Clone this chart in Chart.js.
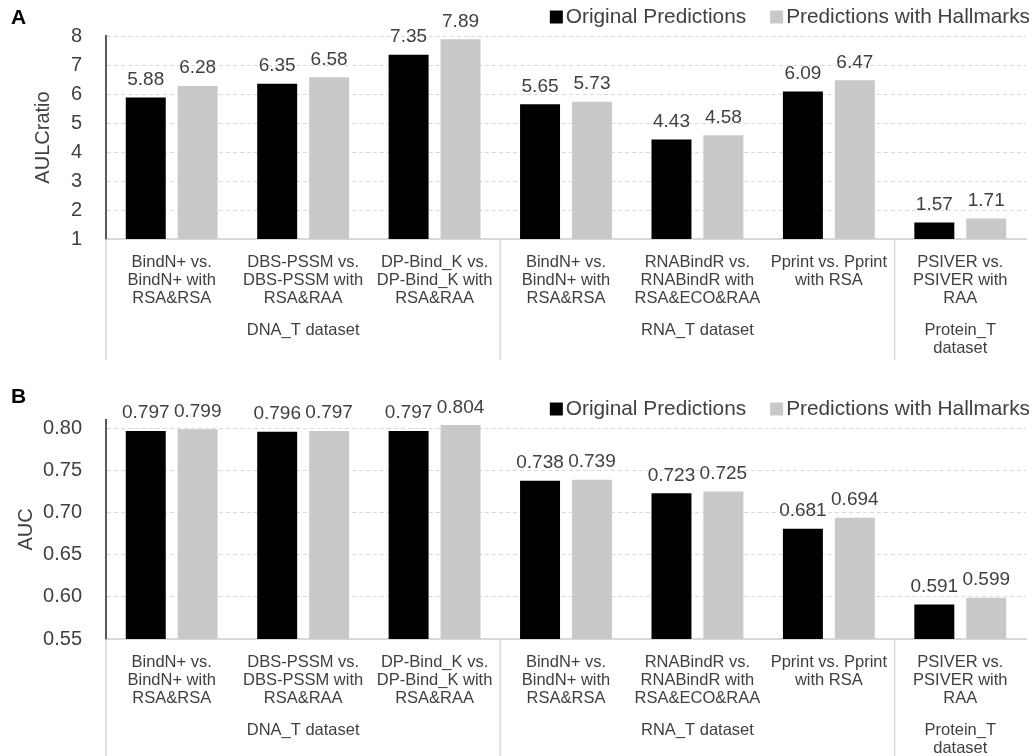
<!DOCTYPE html>
<html>
<head>
<meta charset="utf-8">
<script src="https://cdn.jsdelivr.net/npm/chart.js@4.4.1/dist/chart.umd.min.js"></script>
<style>
  body { margin: 0; background: #fff; }
  .panel { width: 1033px; height: 378px; }
</style>
</head>
<body>
<div class="panel"><canvas id="chartA" width="1033" height="378"></canvas></div>
<div class="panel"><canvas id="chartB" width="1033" height="378"></canvas></div>
<script>
const categories = [
  ["BindN+ vs.", "BindN+ with", "RSA&RSA"],
  ["DBS-PSSM vs.", "DBS-PSSM with", "RSA&RAA"],
  ["DP-Bind_K vs.", "DP-Bind_K with", "RSA&RAA"],
  ["BindN+ vs.", "BindN+ with", "RSA&RSA"],
  ["RNABindR vs.", "RNABindR with", "RSA&ECO&RAA"],
  ["Pprint vs. Pprint", "with RSA"],
  ["PSIVER vs.", "PSIVER with", "RAA"],
];
const groupNames = [["DNA_T dataset"], ["RNA_T dataset"], ["Protein_T", "dataset"]];
const groupSizes = [3, 3, 1];
const seriesNames = ["Original Predictions", "Predictions with Hallmarks"];

const aulcOriginal = [5.88, 6.35, 7.35, 5.65, 4.43, 6.09, 1.57];
const aulcHallmarks = [6.28, 6.58, 7.89, 5.73, 4.58, 6.47, 1.71];
const aulcTicks = [1, 2, 3, 4, 5, 6, 7, 8];

const aucOriginal = [0.797, 0.796, 0.797, 0.738, 0.723, 0.681, 0.591];
const aucHallmarks = [0.799, 0.797, 0.804, 0.739, 0.725, 0.694, 0.599];
const aucTicks = [0.55, 0.60, 0.65, 0.70, 0.75, 0.80];

const FONT = '"Liberation Sans", Arial, sans-serif';
const TEXT = "#404040";
const GRID = "#d9d9d9";

Chart.defaults.font.family = FONT;
Chart.defaults.color = TEXT;

// value labels, legend, dataset grouping under the axis, panel letter
const groupAxis = {
  id: "groupAxis",
  afterDatasetsDraw(chart, args, opts) {
    const ctx = chart.ctx;
    ctx.save();
    ctx.font = "19px " + FONT;
    ctx.fillStyle = TEXT;
    ctx.textAlign = "center";
    ctx.textBaseline = "alphabetic";
    chart.data.datasets.forEach((ds, i) => {
      chart.getDatasetMeta(i).data.forEach((bar, j) => {
        ctx.fillText(ds.data[j].toFixed(opts.decimals), bar.x, bar.y - 12.5);
      });
    });
    ctx.restore();
  },
  afterDraw(chart, args, opts) {
    const ctx = chart.ctx;
    const xs = chart.scales.x;
    const area = chart.chartArea;
    const bounds = [area.left];
    let k = 0;
    groupSizes.forEach((n, g) => {
      k += n;
      if (g < groupSizes.length - 1) {
        bounds.push((xs.getPixelForValue(k - 1) + xs.getPixelForValue(k)) / 2);
      }
    });
    ctx.save();
    ctx.strokeStyle = GRID;
    ctx.lineWidth = 1.5;
    bounds.forEach(b => {
      ctx.beginPath();
      ctx.moveTo(b, area.bottom);
      ctx.lineTo(b, opts.sepBottom);
      ctx.stroke();
    });
    bounds.push(area.right);
    ctx.font = "16.5px " + FONT;
    ctx.fillStyle = TEXT;
    ctx.textAlign = "center";
    ctx.textBaseline = "middle";
    groupNames.forEach((lines, g) => {
      const cx = (bounds[g] + bounds[g + 1]) / 2;
      lines.forEach((t, li) => ctx.fillText(t, cx, area.bottom + 91 + li * 18));
    });

    // legend, right aligned at the top
    ctx.font = "20.8px " + FONT;
    ctx.textAlign = "left";
    let x = 1030;
    const items = chart.data.datasets.map(ds => ({ text: ds.label, color: ds.backgroundColor }));
    for (let i = items.length - 1; i >= 0; i--) {
      const w = ctx.measureText(items[i].text).width;
      x -= w;
      ctx.fillStyle = TEXT;
      ctx.fillText(items[i].text, x, opts.legendY);
      x -= 16;
      ctx.fillStyle = items[i].color;
      ctx.fillRect(x, opts.legendY - 6.5, 13, 13);
      x -= 24;
    }

    ctx.font = "bold 21px " + FONT;
    ctx.fillStyle = "#000";
    ctx.fillText(opts.letter, 11, opts.letterY);
    ctx.restore();
  }
};

function makeChart(id, cfg) {
  return new Chart(id, {
    type: "bar",
    data: {
      labels: categories,
      datasets: [
        { label: seriesNames[0], data: cfg.original, backgroundColor: "#000000",
          borderWidth: 0, categoryPercentage: 0.79, barPercentage: 0.77 },
        { label: seriesNames[1], data: cfg.hallmarks, backgroundColor: "#c9c9c9",
          borderWidth: 0, categoryPercentage: 0.79, barPercentage: 0.77 },
      ],
    },
    options: {
      responsive: false,
      animation: false,
      layout: { padding: { top: cfg.padTop, right: 7, left: 0, bottom: 0 } },
      plugins: {
        tooltip: { enabled: false },
        legend: { display: false },
        groupAxis: {
          decimals: cfg.decimals, sepBottom: cfg.sepBottom,
          letter: cfg.letter, letterY: cfg.letterY, legendY: cfg.legendY,
        },
      },
      scales: {
        x: {
          grid: { display: false, drawTicks: false },
          border: { color: GRID, width: 2 },
          ticks: { font: { size: 16.5, lineHeight: 1.09 }, color: TEXT, padding: 14, maxRotation: 0, autoSkip: false },
          afterFit(scale) { scale.height = cfg.xHeight; },
        },
        y: {
          min: cfg.min,
          max: cfg.max,
          ticks: {
            font: { size: 20 },
            color: TEXT,
            padding: 24,
            callback: v => cfg.decimals === 3 ? v.toFixed(2) : v,
          },
          afterBuildTicks(scale) {
            scale.ticks = cfg.ticks.map(v => ({ value: v }));
          },
          grid: { color: GRID, lineWidth: 1, drawTicks: false },
          border: { color: "#595959", width: 2, dash: [4, 3] },
          title: { display: true, text: cfg.title, font: { size: 20 }, color: TEXT, padding: { top: cfg.titlePad } },
          afterFit(scale) { scale.width = 106; },
        },
      },
    },
    plugins: [groupAxis],
  });
}

makeChart("chartA", {
  original: aulcOriginal, hallmarks: aulcHallmarks, ticks: aulcTicks, decimals: 2,
  min: 1, max: 8, title: "AULCratio", titlePad: 31,
  padTop: 32, xHeight: 139, sepBottom: 360, letter: "A", letterY: 18, legendY: 17,
});
makeChart("chartB", {
  original: aucOriginal, hallmarks: aucHallmarks, ticks: aucTicks, decimals: 3,
  min: 0.55, max: 0.81, title: "AUC", titlePad: 14,
  padTop: 42, xHeight: 117, sepBottom: 378, letter: "B", letterY: 19, legendY: 31,
});
</script>
</body>
</html>
